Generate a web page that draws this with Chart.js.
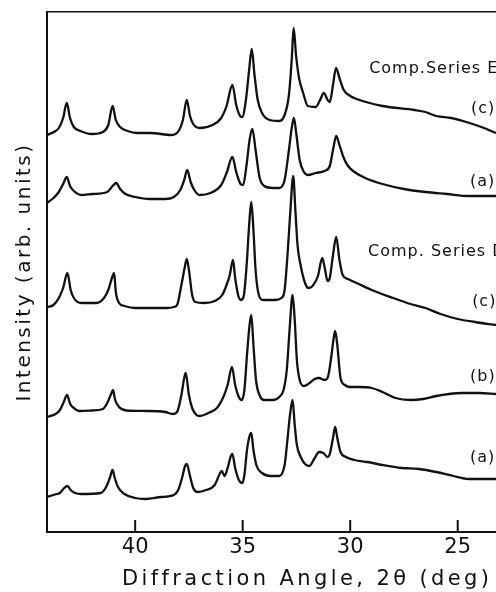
<!DOCTYPE html>
<html>
<head>
<meta charset="utf-8">
<script src="https://cdn.jsdelivr.net/npm/chart.js@4.4.0/dist/chart.umd.min.js"></script>
<style>
  html, body { margin: 0; padding: 0; background: #fff; }
  #xrd { display: block; }
</style>
</head>
<body>
<canvas id="xrd" width="496" height="592"></canvas>
<script>
// 2-theta (deg) and intensity (arb. units, traces already offset)
const angleEc = [44.10, 43.70, 43.55, 43.35, 43.18, 43.03, 42.85, 42.55, 42.00, 41.50, 41.25, 41.05, 40.90, 40.70, 40.35, 39.90, 39.30, 38.30, 37.95, 37.78, 37.60, 37.45, 37.30, 37.00, 36.40, 36.00, 35.75, 35.48, 35.30, 35.12, 35.02, 34.85, 34.70, 34.58, 34.45, 34.30, 34.10, 33.75, 33.30, 33.05, 32.85, 32.72, 32.63, 32.52, 32.38, 32.20, 31.97, 31.60, 31.40, 31.23, 31.05, 30.95, 30.80, 30.66, 30.50, 30.30, 30.00, 29.70, 28.50, 27.00, 26.50, 26.00, 25.30, 24.60, 23.90, 23.22];
const intEc = [397, 401, 404, 414, 429, 414, 405, 401, 398, 400, 407, 426, 412, 405, 401, 399, 399, 397, 402, 412, 432, 416, 408, 404, 407, 414, 426, 447, 427, 416, 415, 432, 462, 483, 457, 432, 419, 412, 411, 417, 437, 472, 504, 477, 454, 440, 426, 425, 432, 439, 432, 430, 447, 464, 454, 442, 436, 433, 426, 422, 420, 416, 414, 410, 405, 399];

const angleEa = [44.10, 43.80, 43.55, 43.35, 43.18, 43.03, 42.85, 42.50, 42.00, 41.30, 41.05, 40.88, 40.70, 40.45, 40.00, 39.30, 38.60, 38.20, 37.90, 37.72, 37.58, 37.42, 37.25, 37.00, 36.50, 36.00, 35.75, 35.48, 35.30, 35.10, 34.98, 34.82, 34.68, 34.55, 34.40, 34.22, 34.00, 33.60, 33.30, 33.05, 32.85, 32.72, 32.62, 32.50, 32.35, 32.15, 31.97, 31.60, 31.20, 30.95, 30.80, 30.65, 30.50, 30.30, 30.10, 29.80, 29.30, 28.50, 27.50, 26.50, 25.50, 24.50, 23.22];
const intEa = [329, 334, 340, 348, 355, 346, 341, 337, 338, 340, 346, 349, 343, 338, 335, 333, 333, 335, 342, 352, 362, 350, 342, 337, 339, 347, 359, 375, 360, 348, 347, 367, 392, 403, 382, 355, 346, 344, 344, 352, 382, 404, 414, 397, 372, 360, 357, 359, 361, 366, 382, 396, 387, 374, 366, 360, 354, 348, 343, 340, 338, 336, 336];

const angleDc = [44.10, 43.80, 43.55, 43.35, 43.15, 43.00, 42.85, 42.50, 41.80, 41.45, 41.25, 41.05, 40.98, 40.90, 40.75, 40.50, 40.00, 38.50, 38.20, 38.05, 37.85, 37.70, 37.60, 37.50, 37.35, 37.20, 36.80, 36.30, 35.95, 35.75, 35.60, 35.45, 35.35, 35.20, 35.08, 34.95, 34.80, 34.70, 34.60, 34.50, 34.40, 34.25, 34.05, 33.50, 33.20, 33.05, 32.90, 32.78, 32.65, 32.55, 32.45, 32.30, 32.10, 31.95, 31.75, 31.50, 31.30, 31.20, 31.05, 30.95, 30.80, 30.65, 30.50, 30.35, 30.10, 29.70, 29.00, 28.00, 27.20, 26.50, 25.80, 25.00, 24.20, 23.22];
const intDc = [225, 227, 234, 244, 259, 242, 234, 229, 229, 234, 242, 256, 259, 240, 229, 226, 224, 224, 225, 227, 247, 264, 273, 262, 237, 230, 229, 231, 237, 247, 257, 272, 254, 236, 232, 236, 272, 307, 330, 302, 262, 237, 232, 232, 234, 242, 282, 322, 356, 322, 287, 266, 249, 244, 246, 256, 274, 266, 251, 254, 277, 295, 272, 257, 253, 249, 242, 234, 228, 224, 218, 213, 210, 207];

const angleDb = [44.10, 43.70, 43.50, 43.32, 43.17, 43.02, 42.85, 42.60, 42.00, 41.50, 41.30, 41.10, 41.03, 40.93, 40.75, 40.40, 39.50, 38.60, 38.25, 38.05, 37.85, 37.72, 37.65, 37.50, 37.35, 37.15, 37.00, 36.60, 36.20, 35.90, 35.70, 35.50, 35.35, 35.20, 35.05, 34.92, 34.80, 34.68, 34.60, 34.50, 34.38, 34.20, 34.00, 33.60, 33.30, 33.10, 32.95, 32.82, 32.68, 32.58, 32.48, 32.35, 32.15, 31.95, 31.65, 31.45, 31.20, 31.05, 30.90, 30.78, 30.70, 30.60, 30.45, 30.25, 30.00, 29.60, 29.00, 28.50, 27.90, 27.20, 26.60, 26.00, 25.40, 24.80, 24.00, 23.22];
const intDb = [115, 118, 122, 130, 137, 128, 124, 121, 121.5, 123, 129, 139, 142, 132, 125, 121.5, 121, 120, 118, 120, 137, 154, 159, 137, 124, 117, 116, 119, 124, 135, 147, 165, 147, 136, 132, 142, 177, 207, 217, 187, 152, 136, 132, 132, 135, 142, 162, 202, 237, 212, 172, 152, 146, 148, 153, 154, 152, 154, 172, 192, 201, 187, 154, 147, 145, 145, 144, 140, 134, 132, 133, 136, 138, 139, 139, 138];

const angleDa = [44.10, 43.65, 43.50, 43.30, 43.15, 43.00, 42.80, 42.50, 41.60, 41.35, 41.18, 41.05, 40.95, 40.80, 40.50, 40.00, 39.50, 38.80, 38.20, 38.00, 37.82, 37.68, 37.60, 37.45, 37.30, 37.10, 36.70, 36.30, 36.05, 35.97, 35.85, 35.70, 35.55, 35.48, 35.35, 35.18, 35.02, 34.92, 34.80, 34.68, 34.60, 34.50, 34.35, 34.10, 33.70, 33.30, 33.05, 32.92, 32.80, 32.68, 32.58, 32.48, 32.30, 32.10, 31.90, 31.65, 31.45, 31.25, 31.05, 30.95, 30.80, 30.70, 30.60, 30.45, 30.20, 29.80, 29.20, 28.50, 27.60, 26.80, 26.00, 25.20, 24.50, 23.80, 23.22];
const intDa = [35, 38, 39, 44, 46, 42, 39, 38, 39, 45, 54, 62, 54, 45, 38, 34, 33, 35, 37, 42, 54, 66, 68, 56, 44, 40, 42, 47, 59, 61, 56, 64, 76, 78, 64, 52, 49, 57, 82, 96, 99, 82, 66, 59, 56, 56, 67, 92, 117, 132, 107, 87, 75, 68, 66, 74, 80, 79, 75, 78, 94, 105, 94, 80, 75, 72, 70, 67, 64, 63, 60, 56, 53, 53, 53];

const tickAngles = [40, 35, 30, 25];
const seriesNames = ["Comp.Series E (c)", "Comp.Series E (a)", "Comp. Series D (c)", "Comp. Series D (b)", "Comp. Series D (a)"];

function points(angles, values) {
    return angles.map((a, i) => ({ x: a, y: values[i] }));
}

// short vertical strokes standing on the bottom axis, one per labelled angle
function tickMarks(angles, len) {
    const out = [];
    angles.forEach(a => {
        out.push({ x: a, y: 0 }, { x: a, y: len }, { x: a, y: null });
    });
    return out;
}

// hand-placed labels at the right of each trace (in data units)
const traceLabels = [
    { text: "Comp.Series E", angle: 29.12, level: 463 },
    { text: "(c)", angle: 24.38, level: 423 },
    { text: "(a)", angle: 24.43, level: 350 },
    { text: "Comp. Series D", angle: 29.17, level: 280 },
    { text: "(c)", angle: 24.33, level: 230 },
    { text: "(b)", angle: 24.43, level: 155 },
    { text: "(a)", angle: 24.43, level: 74 }
];

const figureText = {
    id: "figureText",
    afterDraw(chart) {
        const { ctx, scales } = chart;
        const area = chart.chartArea;
        const xs = scales.x, ys = scales.y;

        ctx.save();
        ctx.fillStyle = "#111";
        ctx.textBaseline = "middle";
        ctx.font = "16px 'DejaVu Sans'";
        ctx.letterSpacing = "1px";
        ctx.textAlign = "left";
        traceLabels.forEach(l => {
            ctx.fillText(l.text, xs.getPixelForValue(l.angle), ys.getPixelForValue(l.level));
        });

        // x axis title
        ctx.font = "21px 'DejaVu Sans'";
        ctx.letterSpacing = "3.4px";
        ctx.textAlign = "center";
        ctx.fillText("Diffraction Angle, 2θ (deg)", xs.getPixelForValue(32), 580);

        // y axis title
        ctx.font = "20px 'DejaVu Sans'";
        ctx.letterSpacing = "2.5px";
        ctx.translate(25, (area.top + area.bottom) / 2);
        ctx.rotate(-Math.PI / 2);
        ctx.fillText("Intensity (arb. units)", 0, 0);
        ctx.restore();
    }
};

const traces = [
    points(angleEc, intEc),
    points(angleEa, intEa),
    points(angleDc, intDc),
    points(angleDb, intDb),
    points(angleDa, intDa)
];

const datasets = traces.map((pts, i) => ({
    label: seriesNames[i],
    data: pts,
    borderColor: "#111",
    borderWidth: 2.3,
    pointRadius: 0,
    fill: false,
    cubicInterpolationMode: "monotone"
}));

datasets.push({
    label: "ticks",
    data: tickMarks(tickAngles, 12),
    borderColor: "#111",
    borderWidth: 2,
    pointRadius: 0,
    tension: 0,
    spanGaps: false,
    fill: false
});

new Chart(document.getElementById("xrd"), {
    type: "line",
    data: { datasets },
    options: {
        responsive: false,
        animation: false,
        devicePixelRatio: 1,
        layout: { padding: { left: 0, top: 12, right: 0, bottom: 0 } },
        plugins: {
            legend: { display: false },
            tooltip: { enabled: false }
        },
        scales: {
            x: {
                type: "linear",
                position: "bottom",
                reverse: true,
                min: 23.22,
                max: 44.1,
                afterBuildTicks: (scale) => {
                    scale.ticks = tickAngles.map(v => ({ value: v }));
                },
                afterFit: (scale) => { scale.height = 60; },
                grid: { display: false, drawTicks: false },
                border: { display: true, color: "#111", width: 2 },
                ticks: {
                    color: "#111",
                    font: { family: "DejaVu Sans", size: 21 },
                    padding: 3,
                    maxRotation: 0,
                    autoSkip: false
                }
            },
            xTop: {
                type: "linear",
                position: "top",
                reverse: true,
                min: 23.22,
                max: 44.1,
                afterFit: (scale) => { scale.height = 0; },
                grid: { display: false },
                ticks: { display: false },
                border: { display: true, color: "#111", width: 1.5 }
            },
            y: {
                type: "linear",
                min: 0,
                max: 520,
                afterFit: (scale) => { scale.width = 47; },
                grid: { display: false },
                ticks: { display: false },
                border: { display: true, color: "#111", width: 2 }
            }
        }
    },
    plugins: [figureText]
});
</script>
</body>
</html>
